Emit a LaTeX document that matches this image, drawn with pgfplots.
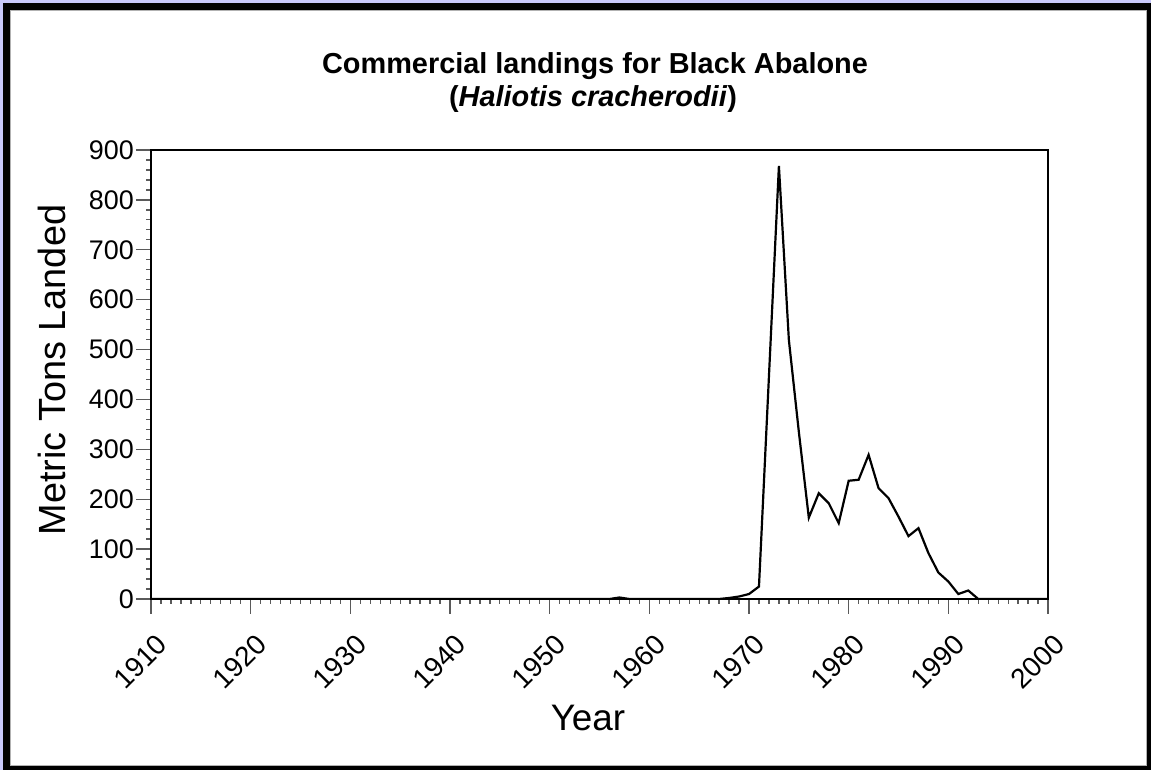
\documentclass[border=0pt]{standalone}
\usepackage{fontspec}
\setmainfont{Liberation Sans}
\usepackage{pgfplots}
\pgfplotsset{compat=1.18}
\definecolor{lav}{RGB}{200,200,250}
\definecolor{tickgray}{RGB}{90,90,90}
\begin{document}
\begin{tikzpicture}[x=1bp,y=1bp]
\useasboundingbox (0,0) rectangle (1151,770);
\fill[lav] (0,0) rectangle (1151,770);
\fill[black] (3,0) rectangle (1151,767);
\fill[white] (10,4) rectangle (1147,760);
\draw[gray!60, line width=1bp] (10.5,4.5) rectangle (1146.5,759.5);
\begin{axis}[
  at={(151bp,171bp)}, anchor=south west,
  scale only axis, width=897bp, height=449bp,
  xmin=1910, xmax=2000, ymin=0, ymax=900,
  xtick={1910,1920,...,2000}, ytick={0,100,...,900},
  minor x tick num=9, minor y tick num=4,
  xtick pos=bottom, ytick pos=left,
  tick align=outside,
  major tick length=15bp, minor tick length=5bp,
  every tick/.style={tickgray, line width=1.3bp},
  axis line style={line width=2bp},
  /pgf/number format/assume math mode=true,
  /pgf/number format/1000 sep={},
  yticklabel style={font=\fontsize{27}{27}\selectfont, inner sep=2bp},
  xticklabel style={font=\fontsize{28}{28}\selectfont, rotate=45, anchor=east, inner sep=0pt, xshift=-10bp, yshift=-26bp},
]
\addplot[black, line width=2.2bp, line join=miter] coordinates {
(1910,0) (1956,0) (1957,3) (1958,0) (1967,0) (1968,2) (1969,5) (1970,10) (1971,25) (1972,446) (1973,868) (1974,519) (1975,335) (1976,163) (1977,212) (1978,192) (1979,152) (1980,237) (1981,239) (1982,289) (1983,222) (1984,202) (1985,165) (1986,126) (1987,142) (1988,92) (1989,53) (1990,35) (1991,10) (1992,17) (1993,0) (2000,0)
};
\end{axis}
\node[anchor=base, font=\bfseries\fontsize{29}{34}\selectfont] at (595,696.7) {Commercial landings for Black Abalone};
\node[anchor=base, font=\bfseries\fontsize{29}{34}\selectfont] at (593,663) {(\textit{Haliotis cracherodii})};
\node[anchor=base, rotate=90, font=\fontsize{38}{38}\selectfont] at (65,400) {Metric Tons Landed};
\node[anchor=base, font=\fontsize{37}{37}\selectfont] at (588,39.3) {Year};
\end{tikzpicture}
\end{document}
